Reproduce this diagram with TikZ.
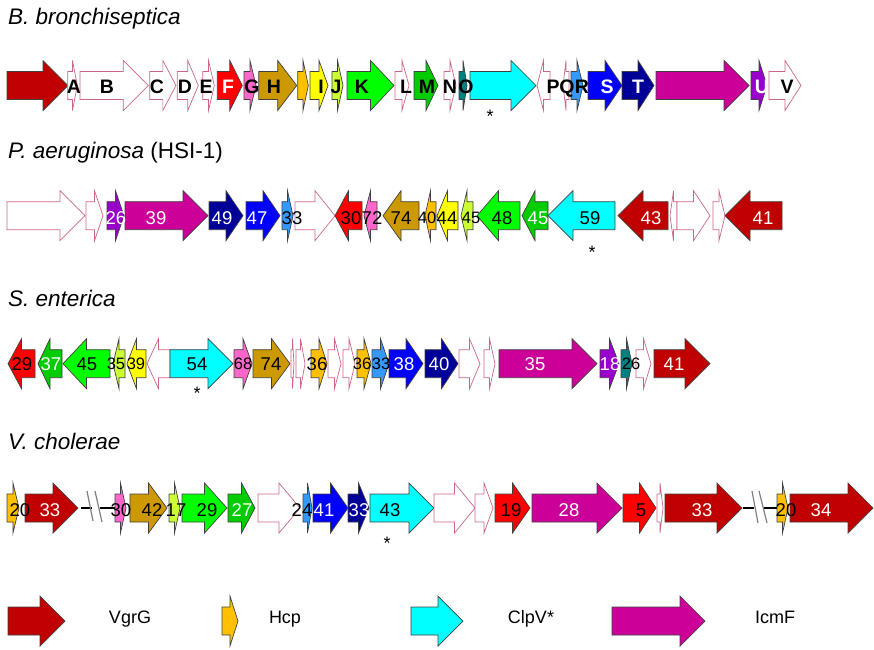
\documentclass[tikz,border=0pt]{standalone}
\usepackage{fontspec}
\setmainfont{Liberation Sans}
\definecolor{cVgrG}{HTML}{C00000}
\definecolor{cRed}{HTML}{FF0000}
\definecolor{cPink}{HTML}{FF66CC}
\definecolor{cBrown}{HTML}{CC9900}
\definecolor{cHcp}{HTML}{FFC000}
\definecolor{cYel}{HTML}{FFFF00}
\definecolor{cYGreen}{HTML}{CCFF33}
\definecolor{cGreen}{HTML}{00FF00}
\definecolor{cDGreen}{HTML}{00CC00}
\definecolor{cTeal}{HTML}{008080}
\definecolor{cClpV}{HTML}{00FFFF}
\definecolor{cLBlue}{HTML}{3399FF}
\definecolor{cBlue}{HTML}{0000FF}
\definecolor{cNavy}{HTML}{000099}
\definecolor{cIcmF}{HTML}{CC0099}
\definecolor{cPurple}{HTML}{9900CC}
\definecolor{cBlankLine}{HTML}{CC6688}
% gene arrow: #1 style, #2 start x, #3 end x, #4 row centre, #5 r (forward) or l (reverse)
\newcommand\genearrow[5]{%
  \pgfmathsetmacro\geneA{#2}%
  \pgfmathsetmacro\geneB{#3}%
  \pgfmathsetmacro\geneH{min(25,(\geneB-\geneA)/2)}%
  \if r#5%
    \draw[#1] (\geneA,#4-14) -- (\geneB-\geneH,#4-14) -- (\geneB-\geneH,#4-25) -- (\geneB,#4)
      -- (\geneB-\geneH,#4+25) -- (\geneB-\geneH,#4+14) -- (\geneA,#4+14) -- cycle;%
  \else
    \draw[#1] (\geneB,#4-14) -- (\geneA+\geneH,#4-14) -- (\geneA+\geneH,#4-25) -- (\geneA,#4)
      -- (\geneA+\geneH,#4+25) -- (\geneA+\geneH,#4+14) -- (\geneB,#4+14) -- cycle;%
  \fi}
\def\rowA{85.5}
\def\rowB{215.7}
\def\rowC{363.7}
\def\rowD{508}
\def\rowL{621}
\begin{document}
\begin{tikzpicture}[x=1pt,y=-1pt,
  gene/.style={line width=0.7pt, line join=miter},
  dark/.style={gene, draw=black!75},
  blank/.style={gene, draw=cBlankLine, fill=white},
  vgrg/.style={dark, fill=cVgrG},
  red/.style={dark, fill=cRed},
  pink/.style={dark, fill=cPink},
  brown/.style={dark, fill=cBrown},
  hcp/.style={dark, fill=cHcp},
  yel/.style={dark, fill=cYel},
  ygreen/.style={dark, fill=cYGreen},
  green/.style={dark, fill=cGreen},
  dgreen/.style={dark, fill=cDGreen},
  teal/.style={dark, fill=cTeal},
  clpv/.style={dark, fill=cClpV},
  lblue/.style={dark, fill=cLBlue},
  blue/.style={dark, fill=cBlue},
  navy/.style={dark, fill=cNavy},
  icmf/.style={dark, fill=cIcmF},
  purple/.style={dark, fill=cPurple},
  letk/.style={inner sep=0pt, font=\fontsize{19.5}{20}\selectfont\bfseries, text height=14pt, text depth=0pt},
  letw/.style={letk, text=white},
  numk/.style={inner sep=0pt, font=\fontsize{18.5}{19}\selectfont, text height=13.2pt, text depth=0pt},
  numw/.style={numk, text=white},
  smk/.style={inner sep=0pt, font=\fontsize{16.5}{17}\selectfont, text height=11.8pt, text depth=0pt},
  smw/.style={smk, text=white},
  title/.style={inner sep=0pt, anchor=base west, font=\fontsize{22.5}{24}\selectfont},
  asterisk/.style={inner sep=0pt, anchor=base, font=\fontsize{18}{18}\selectfont},
  legendtext/.style={inner sep=0pt, font=\fontsize{18}{18}\selectfont, text height=12.9pt, text depth=0pt},
  gapline/.style={line width=2.2pt, black},
  slash/.style={line width=1.2pt, black!50}
]
\useasboundingbox (0,0) rectangle (874,649);

% ---------------- titles
\node[title] (tB) at (8,24) {\itshape B. bronchiseptica};
\node[title] (tP) at (8,158) {\itshape P. aeruginosa\/ \upshape(HSI-1)};
\node[title] (tS) at (8,306) {\itshape S. enterica};
\node[title] (tV) at (8,449) {\itshape V. cholerae};

% ---------------- B. bronchiseptica
\genearrow{vgrg}{7}{68}{\rowA}{r}
\genearrow{blank}{67.7}{77.3}{\rowA}{r}
\genearrow{blank}{80}{148.3}{\rowA}{r}
\genearrow{blank}{149.7}{176}{\rowA}{r}
\genearrow{blank}{177.3}{198.3}{\rowA}{r}
\genearrow{blank}{202.7}{214.3}{\rowA}{r}
\genearrow{red}{217.3}{242.3}{\rowA}{r}
\genearrow{pink}{244}{256}{\rowA}{r}
\genearrow{brown}{258.7}{296.7}{\rowA}{r}
\genearrow{hcp}{297.7}{308.3}{\rowA}{r}
\genearrow{yel}{310}{328}{\rowA}{r}
\genearrow{ygreen}{332}{343}{\rowA}{r}
\genearrow{green}{347}{394}{\rowA}{r}
\genearrow{blank}{395}{409}{\rowA}{r}
\genearrow{dgreen}{414}{438}{\rowA}{r}
\genearrow{blank}{444}{456}{\rowA}{r}
\genearrow{teal}{459}{467}{\rowA}{r}
\genearrow{clpv}{470}{536}{\rowA}{r}
\genearrow{blank}{537}{550}{\rowA}{l}
\genearrow{blank}{563}{569}{\rowA}{l}
\genearrow{lblue}{571}{583}{\rowA}{r}
\genearrow{blue}{588}{622}{\rowA}{r}
\genearrow{navy}{622}{654}{\rowA}{r}
\genearrow{icmf}{656}{749}{\rowA}{r}
\genearrow{purple}{751}{767}{\rowA}{r}
\genearrow{blank}{769}{801}{\rowA}{r}

\node[letk] (bA) at (74,86.3) {A};
\node[letk] (bB) at (107,86.3) {B};
\node[letk] (bC) at (157,86.3) {C};
\node[letk] (bD) at (185,86.3) {D};
\node[letk] (bE) at (206,86.3) {E};
\node[letw] (bF) at (228,86.3) {F};
\node[letk] (bG) at (252,86.3) {G};
\node[letk] (bH) at (274,86.3) {H};
\node[letk] (bI) at (321,86.3) {I};
\node[letk] (bJ) at (336,86.3) {J};
\node[letk] (bK) at (362,86.3) {K};
\node[letk] (bL) at (406,86.3) {L};
\node[letk] (bM) at (427,86.3) {M};
\node[letk] (bN) at (450,86.3) {N};
\node[letk] (bO) at (466,86.3) {O};
\node[letk] (bP) at (553,86.3) {P};
\node[letk] (bQ) at (567,86.3) {Q};
\node[letk] (bR) at (582,86.3) {R};
\node[letw] (bS) at (607,86.3) {S};
\node[letw] (bT) at (638,86.3) {T};
\node[letw] (bU) at (762,86.3) {U};
\node[letk] (bV) at (787,86.3) {V};
\node[asterisk] (bStar) at (490,122) {*};

% ---------------- P. aeruginosa (HSI-1)
\genearrow{blank}{7}{85}{\rowB}{r}
\genearrow{blank}{86}{103}{\rowB}{r}
\genearrow{purple}{107}{124}{\rowB}{r}
\genearrow{icmf}{125}{208}{\rowB}{r}
\genearrow{navy}{209}{243}{\rowB}{r}
\genearrow{blue}{246}{280}{\rowB}{r}
\genearrow{lblue}{282}{293}{\rowB}{r}
\genearrow{blank}{295}{335}{\rowB}{r}
\genearrow{red}{335}{362}{\rowB}{l}
\genearrow{pink}{364}{377}{\rowB}{l}
\genearrow{brown}{383}{419}{\rowB}{l}
\genearrow{hcp}{425}{436}{\rowB}{l}
\genearrow{yel}{437}{458}{\rowB}{l}
\genearrow{ygreen}{461}{473}{\rowB}{l}
\genearrow{green}{477}{520}{\rowB}{l}
\genearrow{dgreen}{522}{548}{\rowB}{l}
\genearrow{clpv}{548}{615}{\rowB}{l}
\genearrow{vgrg}{618}{668}{\rowB}{l}
\genearrow{blank}{670}{677}{\rowB}{l}
\genearrow{blank}{677}{710}{\rowB}{r}
\genearrow{blank}{713}{725}{\rowB}{r}
\genearrow{vgrg}{725}{782}{\rowB}{l}

\node[numw] (p26) at (116,218) {26};
\node[numw] (p39) at (156,218) {39};
\node[numw] (p49) at (222,218) {49};
\node[numw] (p47) at (257,218) {47};
\node[numk] (p33) at (292,218) {33};
\node[numk] (p30) at (351,218) {30};
\node[numk] (p72) at (372,218) {72};
\node[numk] (p74) at (401,218) {74};
\node[smk] (p40) at (427,218) {40};
\node[numk] (p44) at (447,218) {44};
\node[smk] (p45a) at (471,218) {45};
\node[numk] (p48) at (502,218) {48};
\node[numw] (p45b) at (538,218) {45};
\node[numk] (p59) at (590,218) {59};
\node[numw] (p43) at (651,218) {43};
\node[numw] (p41) at (763,218) {41};
\node[asterisk] (pStar) at (592,258) {*};

% ---------------- S. enterica
\genearrow{red}{8}{35}{\rowC}{l}
\genearrow{dgreen}{38}{62}{\rowC}{l}
\genearrow{green}{63}{110}{\rowC}{l}
\genearrow{ygreen}{113}{125}{\rowC}{l}
\genearrow{yel}{127}{146}{\rowC}{l}
\genearrow{blank}{147}{170}{\rowC}{l}
\genearrow{clpv}{170}{233}{\rowC}{r}
\genearrow{pink}{234}{252}{\rowC}{r}
\genearrow{brown}{253}{290}{\rowC}{r}
\genearrow{blank}{291}{294}{\rowC}{r}
\genearrow{blank}{296}{305}{\rowC}{r}
\genearrow{hcp}{311}{327}{\rowC}{r}
\genearrow{blank}{328}{341}{\rowC}{r}
\genearrow{blank}{343}{355}{\rowC}{r}
\genearrow{hcp}{357}{371}{\rowC}{r}
\genearrow{lblue}{372}{389}{\rowC}{r}
\genearrow{blue}{389}{423}{\rowC}{r}
\genearrow{navy}{425}{458}{\rowC}{r}
\genearrow{blank}{459}{480}{\rowC}{r}
\genearrow{blank}{484}{495}{\rowC}{r}
\genearrow{icmf}{499}{597}{\rowC}{r}
\genearrow{purple}{600}{619}{\rowC}{r}
\genearrow{teal}{621}{632}{\rowC}{r}
\genearrow{blank}{636}{651}{\rowC}{r}
\genearrow{vgrg}{654}{710}{\rowC}{r}

\node[numk] (s29) at (22,364) {29};
\node[numw] (s37) at (51,364) {37};
\node[numk] (s45) at (87,364) {45};
\node[smk] (s35a) at (116,364) {35};
\node[smk] (s39) at (136,364) {39};
\node[numk] (s54) at (197,364) {54};
\node[smk] (s68) at (243,364) {68};
\node[numk] (s74) at (271,364) {74};
\node[numk] (s36a) at (317,364) {36};
\node[smk] (s36b) at (362,364) {36};
\node[smk] (s33) at (381,364) {33};
\node[numw] (s38) at (404,364) {38};
\node[numw] (s40) at (439,364) {40};
\node[numw] (s35b) at (535,364) {35};
\node[numw] (s18) at (610,364) {18};
\node[smk] (s26) at (631,364) {26};
\node[numw] (s41) at (674,364) {41};
\node[asterisk] (sStar) at (197,399) {*};

% ---------------- V. cholerae
\genearrow{hcp}{7}{19}{\rowD}{r}
\genearrow{vgrg}{25}{78}{\rowD}{r}
\genearrow{pink}{115}{126}{\rowD}{r}
\genearrow{brown}{130}{167}{\rowD}{r}
\genearrow{ygreen}{169}{180}{\rowD}{r}
\genearrow{green}{182}{227}{\rowD}{r}
\genearrow{dgreen}{228}{255}{\rowD}{r}
\genearrow{blank}{258}{300}{\rowD}{r}
\genearrow{lblue}{303}{312}{\rowD}{r}
\genearrow{blue}{313}{348}{\rowD}{r}
\genearrow{navy}{348}{369}{\rowD}{r}
\genearrow{clpv}{370}{434}{\rowD}{r}
\genearrow{blank}{434}{475}{\rowD}{r}
\genearrow{blank}{475}{493}{\rowD}{r}
\genearrow{red}{495}{530}{\rowD}{r}
\genearrow{icmf}{532}{622}{\rowD}{r}
\genearrow{red}{623}{656}{\rowD}{r}
\genearrow{blank}{657}{663}{\rowD}{r}
\genearrow{vgrg}{665}{742}{\rowD}{r}
\genearrow{hcp}{777}{788}{\rowD}{r}
\genearrow{vgrg}{790}{873}{\rowD}{r}

% breaks in the locus
\coordinate (ga1) at (81,\rowD);  \coordinate (ga2) at (92,\rowD);
\coordinate (ga3) at (100,\rowD); \coordinate (ga4) at (115,\rowD);
\draw[gapline] (ga1) -- (ga2);
\draw[gapline] (ga3) -- (ga4);
\draw[slash] (87,491) -- (93,521);
\draw[slash] (95,491) -- (102,522);
\coordinate (gb1) at (743,\rowD); \coordinate (gb2) at (754,\rowD);
\coordinate (gb3) at (764,\rowD); \coordinate (gb4) at (777,\rowD);
\draw[gapline] (gb1) -- (gb2);
\draw[gapline] (gb3) -- (gb4);
\draw[slash] (752,491) -- (758,523);
\draw[slash] (759,491) -- (767,523);

\node[numk] (v20a) at (20,510) {20};
\node[numw] (v33a) at (50,510) {33};
\node[numk] (v30) at (121,510) {30};
\node[numk] (v42) at (152,510) {42};
\node[numk] (v17) at (176,510) {17};
\node[numk] (v29) at (207,510) {29};
\node[numw] (v27) at (242,510) {27};
\node[numk] (v24) at (302,510) {24};
\node[numw] (v41) at (324,510) {41};
\node[numw] (v33b) at (359,510) {33};
\node[numk] (v43) at (390,510) {43};
\node[numk] (v19) at (511,510) {19};
\node[numw] (v28) at (569,510) {28};
\node[numk] (v5) at (641,510) {5};
\node[numw] (v33c) at (702,510) {33};
\node[numk] (v20b) at (786,510) {20};
\node[numw] (v34) at (821,510) {34};
\node[asterisk] (vStar) at (387,549) {*};

% ---------------- legend
\genearrow{vgrg}{8}{65}{\rowL}{r}
\genearrow{hcp}{222}{238}{\rowL}{r}
\genearrow{clpv}{411}{463}{\rowL}{r}
\genearrow{icmf}{612}{705}{\rowL}{r}
\node[legendtext] (lV) at (130,617) {VgrG};
\node[legendtext] (lH) at (285,617) {Hcp};
\node[legendtext] (lC) at (531,617) {ClpV*};
\node[legendtext] (lI) at (775,617) {IcmF};
\end{tikzpicture}
\end{document}
